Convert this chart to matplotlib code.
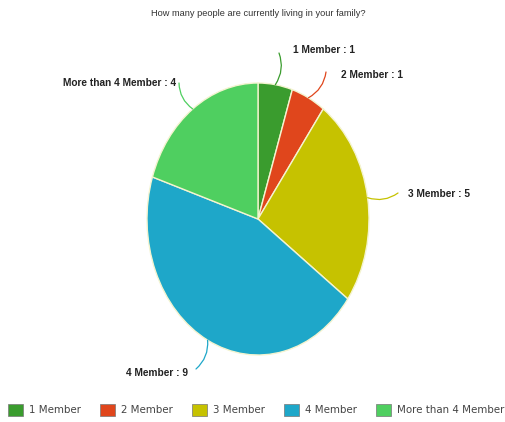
import numpy as np
import matplotlib
matplotlib.use("Agg")
import matplotlib.pyplot as plt

title = "How many people are currently living in your family?"
categories = ["1 Member", "2 Member", "3 Member", "4 Member", "More than 4 Member"]
counts = [1, 1, 5, 9, 4]
colors = ["#3a9c2e", "#e0461c", "#c6c200", "#1ea7c9", "#4fcf60"]

# label layout: elbow of the leader line and text anchor, in image pixels (y down)
elbows = [(279, 53), (326, 72), (398, 193), (196, 369), (179, 83)]
text_pos = [(293, 50), (341, 75), (408, 194), (188, 373), (176, 83)]
text_ha = ["left", "left", "left", "right", "right"]

W, H = 505, 422
fig = plt.figure(figsize=(W / 100, H / 100), dpi=100)
fig.patch.set_facecolor("white")

# pie is stretched vertically in the reference
cx, cy, rx, ry = 258, 219, 111, 136
ax = fig.add_axes([(cx - rx) / W, (H - cy - ry) / H, 2 * rx / W, 2 * ry / H])
wedges, _ = ax.pie(counts, colors=colors, startangle=90, counterclock=False,
                   wedgeprops=dict(edgecolor="#f4f4d0", linewidth=1.0))
ax.set_aspect("auto")
ax.set_xlim(-1, 1)
ax.set_ylim(-1, 1)
ax.axis("off")

fig.text(258.5 / W, 1 - 13 / H, title, ha="center", va="center",
         fontsize=6.7, color="#333333", family="Liberation Sans")

total = sum(counts)
start = 90.0
for i, (name, val) in enumerate(zip(categories, counts)):
    span = 360.0 * val / total
    mid = np.deg2rad(start - span / 2)
    start -= span
    px = cx + rx * np.cos(mid)
    py = cy - ry * np.sin(mid)
    ex, ey = elbows[i]
    rad = 0.25 if text_ha[i] == "left" else -0.25
    fig.add_artist(matplotlib.patches.FancyArrowPatch(
        (px, H - py), (ex, H - ey), transform=None,
        arrowstyle="-", connectionstyle=f"arc3,rad={rad}",
        color=colors[i], lw=0.9, shrinkA=0, shrinkB=0))
    tx, ty = text_pos[i]
    fig.text(tx / W, 1 - ty / H, f"{name} : {val}", ha=text_ha[i], va="center",
             fontsize=7.3, fontweight="bold", color="#222222",
             family="Liberation Sans")

leg = fig.legend(wedges, categories, loc="center", bbox_to_anchor=(256 / W, 1 - 410 / H),
                 ncol=5, frameon=False, handlelength=1.46,
                 handleheight=1.3, handletextpad=0.58, columnspacing=1.85,
                 prop=dict(family="DejaVu Sans", size=7.4))
for t in leg.get_texts():
    t.set_color("#444444")
for h in leg.legend_handles:
    h.set_edgecolor("#777777")
    h.set_linewidth(0.5)

fig.savefig("out.png", dpi=100)
